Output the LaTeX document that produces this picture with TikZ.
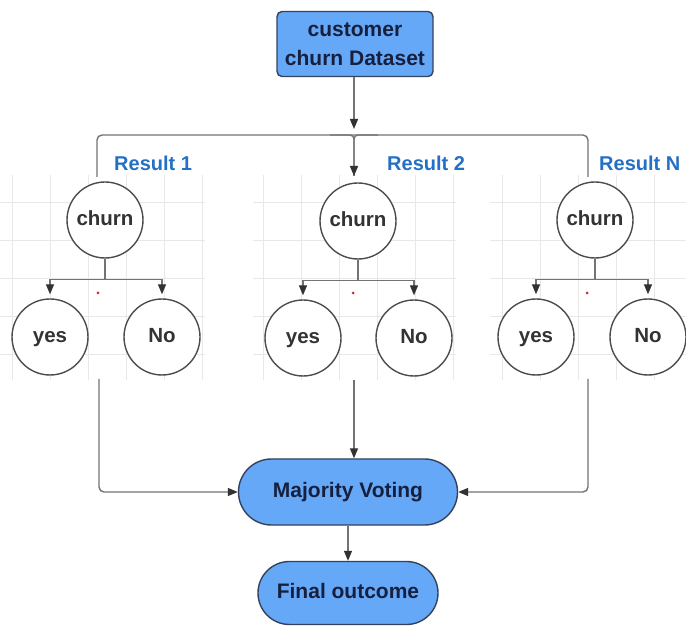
\documentclass[tikz,border=0pt]{standalone}
\usepackage{fontspec}
\setmainfont{Liberation Sans}
\usetikzlibrary{arrows.meta,shapes.misc}
\definecolor{boxfill}{RGB}{102,168,248}
\definecolor{boxline}{RGB}{52,66,92}
\definecolor{boxtext}{RGB}{22,32,62}
\definecolor{wire}{RGB}{115,115,115}
\definecolor{tipc}{RGB}{50,50,50}
\definecolor{labelblue}{RGB}{36,112,196}
\definecolor{gridc}{RGB}{232,232,232}
\definecolor{dotred}{RGB}{200,40,40}
\tikzset{
  bluebox/.style={draw=boxline, fill=boxfill, line width=1.4pt, rounded corners=5pt,
    text=boxtext, font=\fontsize{21}{29}\selectfont\bfseries, align=center, inner sep=0pt},
  pill/.style={draw=boxline, fill=boxfill, line width=1.4pt, rounded rectangle,
    text=boxtext, font=\fontsize{21}{24}\selectfont\bfseries, inner sep=0pt,
    text height=15pt, text depth=4pt},
  treenode/.style={circle, draw=black!70, fill=white, line width=1.4pt, minimum size=76pt,
    inner sep=0pt, text=black!80, font=\fontsize{20.5}{24}\selectfont\bfseries,
    text height=13pt, text depth=2pt},
  reslabel/.style={text=labelblue, font=\fontsize{20}{24}\selectfont\bfseries, inner sep=0pt},
  wireline/.style={draw=wire, line width=1.4pt},
  arr/.style={wireline, -{Triangle[length=10pt,width=8pt,color=tipc]}},
  gridline/.style={draw=gridc, line width=0.9pt},
}
\begin{document}
\begin{tikzpicture}[x=1pt,y=-1pt]
\useasboundingbox (0,0) rectangle (686,628);

% faint background grids behind the three trees
\foreach \xa/\xb/\xo in {0/205/12, 253/456/263, 490/686/502}{
  \foreach \k in {0,...,5}{
    \pgfmathsetmacro{\gx}{\xo+38*\k}
    \ifdim\gx pt<\xb pt \draw[gridline] (\gx,175) -- (\gx,380); \fi
  }
  \foreach \gy in {202,240,278,316,354}{
    \draw[gridline] (\xa,\gy) -- (\xb,\gy);
  }
}

% top data source
\node[bluebox, minimum width=156pt, minimum height=65pt] (data) at (355,44)
  {customer\\churn Dataset};

% three decision trees
\node[treenode] (c1) at (105,220) {churn};
\node[treenode] (c2) at (358,221) {churn};
\node[treenode] (c3) at (595,220) {churn};
\node[treenode] (y1) at (50,337) {yes};
\node[treenode] (n1) at (162,337) {No};
\node[treenode] (y2) at (303,338) {yes};
\node[treenode] (n2) at (414,338) {No};
\node[treenode] (y3) at (536,337) {yes};
\node[treenode] (n3) at (648,337) {No};

\node[reslabel, anchor=west] (r1) at (114,163) {Result 1};
\node[reslabel, anchor=west] (r2) at (387,163) {Result 2};
\node[reslabel, anchor=west] (r3) at (599,163) {Result N};

% voting and outcome
\node[pill, minimum width=219pt, minimum height=66pt] (mv) at (348,492) {Majority Voting};
\node[pill, minimum width=180pt, minimum height=63pt] (fo) at (348,593) {Final outcome};

% distribution bus
\coordinate (ain) at (354,129);
\coordinate (t1) at (97,177);
\coordinate (t3) at (588,177);
\coordinate (bl) at (330,135);
\coordinate (bm) at (354,135);
\coordinate (br) at (378,135);
\coordinate (t2) at (354,176);
\draw[arr] (data.south -| ain) -- (ain);
\draw[wireline, rounded corners=5pt] (t1) -- (t1 |- bm) -- (t3 |- bm) -- (t3);
\draw[wireline, rounded corners=4pt] (bl) -- (bm) -- (t2);
\draw[wireline, rounded corners=4pt] (br) -- (bm) -- (t2);
\draw[arr] ([yshift=8pt]t2) -- (t2);

% tree branches
\foreach \c/\y/\n in {c1/y1/n1, c2/y2/n2, c3/y3/n3}{
  \draw[wireline] (\c.south) -- ++(0,21);
  \draw[arr] (\c.south) ++(0,21) -| ([yshift=4pt]\y.north);
  \draw[arr] (\c.south) ++(0,21) -| ([yshift=4pt]\n.north);
}

% red markers
\foreach \dx in {98,353,587}{
  \fill[dotred] (\dx,293) circle (1.5pt);
}

% votes gathered
\coordinate (d1) at (99,379);
\coordinate (d2) at (354,380);
\coordinate (d3) at (588,379);
\draw[arr, rounded corners=5pt] (d1) |- (mv.west);
\draw[arr] (d2) -- (d2 |- mv.north);
\draw[arr, rounded corners=5pt] (d3) |- (mv.east);
\draw[arr] (mv.south) -- (fo.north);
\end{tikzpicture}
\end{document}
